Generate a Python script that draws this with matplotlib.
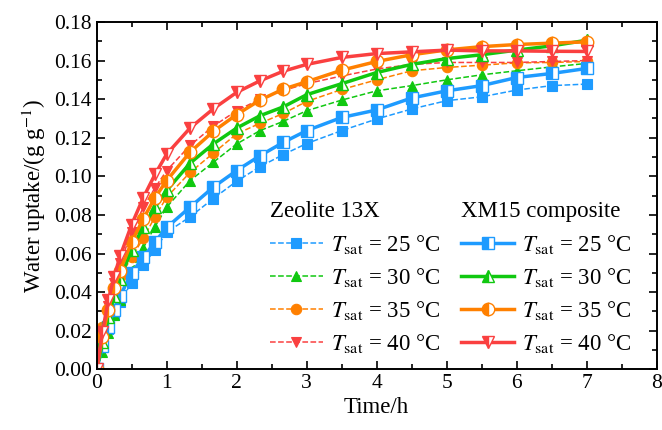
import matplotlib
matplotlib.use('Agg')
import matplotlib.pyplot as plt
from matplotlib.ticker import MultipleLocator, FormatStrFormatter

plt.rcParams['font.family'] = 'Liberation Serif'
plt.rcParams['mathtext.fontset'] = 'stix'

# time points (h)
t = [0, 1/12, 1/6, 1/4, 1/3, 1/2, 2/3, 5/6, 1, 4/3, 5/3, 2, 7/3, 8/3, 3,
     3.5, 4, 4.5, 5, 5.5, 6, 6.5, 7]

# Zeolite 13X
z25 = [0.012, 0.014, 0.021, 0.028, 0.035, 0.045, 0.054, 0.062, 0.071, 0.079, 0.0885,
       0.0975, 0.105, 0.1113, 0.117, 0.1237, 0.1297, 0.1349, 0.1392, 0.1412, 0.1447,
       0.147, 0.1478]
z30 = [0.0, 0.009, 0.019, 0.028, 0.036, 0.051, 0.063, 0.074, 0.084, 0.0978, 0.1073,
       0.1168, 0.1237, 0.1285, 0.134, 0.1395, 0.1443, 0.147, 0.150, 0.1526, 0.1547,
       0.1567, 0.1585]
z35 = [0.018, 0.022, 0.031, 0.040, 0.048, 0.058, 0.068, 0.079, 0.0892, 0.102, 0.112,
       0.122, 0.1275, 0.1326, 0.1388, 0.145, 0.150, 0.1547, 0.1564, 0.1576, 0.1588,
       0.159, 0.1595]
z40 = [0.0, 0.018, 0.033, 0.045, 0.055, 0.071, 0.084, 0.094, 0.103, 0.116, 0.126,
       0.134, 0.140, 0.1445, 0.148, 0.152, 0.1556, 0.158, 0.159, 0.159, 0.159,
       0.1595, 0.160]

# XM15 composite
c25 = [0.0, 0.012, 0.022, 0.031, 0.038, 0.050, 0.058, 0.066, 0.0735, 0.084, 0.0944,
       0.103, 0.1107, 0.1176, 0.1237, 0.1305, 0.1344, 0.1406, 0.1443, 0.147, 0.1512,
       0.1533, 0.1559]
c30 = [0.0, 0.014, 0.027, 0.038, 0.047, 0.062, 0.074, 0.084, 0.0927, 0.1068, 0.1168,
       0.125, 0.1314, 0.136, 0.1423, 0.148, 0.1538, 0.158, 0.161, 0.163, 0.1654,
       0.1676, 0.1705]
c35 = [0.0, 0.017, 0.031, 0.042, 0.051, 0.066, 0.078, 0.089, 0.0978, 0.1125, 0.1233,
       0.132, 0.1395, 0.1452, 0.149, 0.155, 0.1595, 0.163, 0.1655, 0.1672, 0.1683,
       0.169, 0.1697]
c40 = [0.0, 0.0194, 0.0358, 0.048, 0.0585, 0.075, 0.089, 0.101, 0.1115, 0.125, 0.135,
       0.1435, 0.1495, 0.1545, 0.158, 0.1616, 0.1636, 0.1645, 0.1654, 0.165, 0.165,
       0.1648, 0.1647]

temps = ['25', '30', '35', '40']
colors = ['#1E9BFF', '#10C810', '#FF8000', '#FA4040']
markers = ['s', '^', 'o', 'v']

fig = plt.figure(figsize=(6.62, 4.30), dpi=100)
ax = fig.add_axes([0.146, 0.141, 0.846, 0.808])

zh, ch = [], []
for y, c, m, tt in zip([z25, z30, z35, z40], colors, markers, temps):
    h, = ax.plot(t, y, linestyle='--', linewidth=1.1, color=c, marker=m,
                 markersize=7.5, markeredgewidth=0.8,
                 label=r'$T_{\rm sat}$ = ' + tt + ' °C')
    zh.append(h)
for y, c, m, tt in zip([c25, c30, c35, c40], colors, markers, temps):
    h, = ax.plot(t, y, linestyle='-', linewidth=2.5, color=c, marker=m,
                 markersize=9, fillstyle='left', markerfacecoloralt='white',
                 markeredgecolor=c, markeredgewidth=1.0,
                 label=r'$T_{\rm sat}$ = ' + tt + ' °C')
    ch.append(h)

ax.set_xlim(0, 8)
ax.set_ylim(0, 0.18)
ax.xaxis.set_major_locator(MultipleLocator(1))
ax.xaxis.set_minor_locator(MultipleLocator(0.5))
ax.yaxis.set_major_locator(MultipleLocator(0.02))
ax.yaxis.set_minor_locator(MultipleLocator(0.01))
ax.yaxis.set_major_formatter(FormatStrFormatter('%.2f'))
ax.tick_params(which='both', direction='in', top=True, right=True, width=1.2,
               labelsize=15.5)
ax.tick_params(which='major', length=6)
ax.tick_params(which='minor', length=3.5)
for s in ax.spines.values():
    s.set_linewidth(1.4)

ax.set_xlabel('Time/h', fontsize=16.5, labelpad=3)
ax.set_ylabel(r'Water uptake/(g g$^{-1}$)', fontsize=16.5, labelpad=4)

leg_kw = dict(frameon=False, fontsize=16.5, title_fontsize=16.5, handlelength=2.3,
              handletextpad=0.35, labelspacing=0.45, borderpad=0, borderaxespad=0,
              alignment='left', loc='upper left')
leg1 = fig.legend(handles=zh, title='Zeolite 13X', bbox_to_anchor=(0.408, 0.532), **leg_kw)
leg2 = fig.legend(handles=ch, title='XM15 composite', bbox_to_anchor=(0.697, 0.532), **leg_kw)

fig.savefig('out.png', dpi=100)
